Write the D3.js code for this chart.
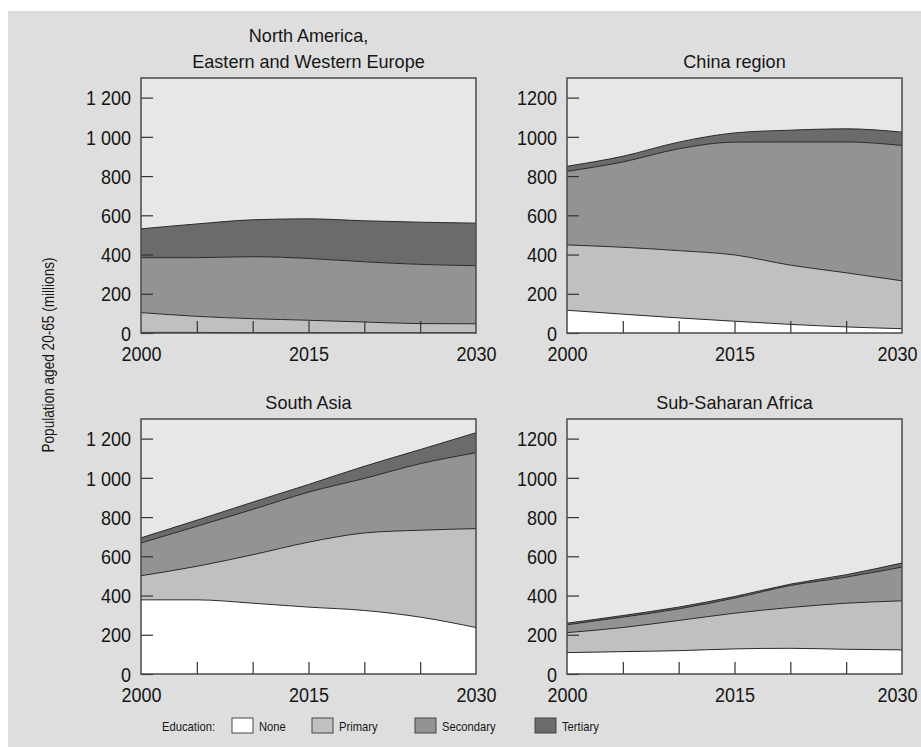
<!DOCTYPE html>
<html>
<head>
<meta charset="utf-8">
<script src="https://cdnjs.cloudflare.com/ajax/libs/d3/7.8.5/d3.min.js"></script>
<style>
body { margin: 0; background: #fff; }
text { font-family: "Liberation Sans", Arial, Helvetica, sans-serif; fill: #161616; }
</style>
</head>
<body>
<svg id="chart" width="921" height="747"></svg>
<script>
// years and education levels
var years = [2000, 2005, 2010, 2015, 2020, 2025, 2030];
var levels = ["None", "Primary", "Secondary", "Tertiary"];

// population aged 20-65 (millions), per level
var naNone = [3, 3, 2, 2, 1, 1, 1];
var naPrimary = [101, 82, 71, 63, 55, 47, 46];
var naSecondary = [280, 299, 316, 315, 307, 302, 296];
var naTertiary = [147, 172, 188, 202, 209, 215, 217];

var chinaNone = [116, 96, 77, 60, 44, 31, 22];
var chinaPrimary = [333, 341, 343, 338, 302, 276, 244];
var chinaSecondary = [375, 435, 519, 575, 628, 667, 690];
var chinaTertiary = [26, 29, 34, 47, 60, 67, 68];

var saNone = [378, 378, 361, 341, 324, 290, 237];
var saPrimary = [123, 171, 247, 331, 395, 443, 504];
var saSecondary = [167, 204, 231, 255, 278, 339, 387];
var saTertiary = [26, 31, 37, 39, 62, 72, 102];

var ssaNone = [109, 114, 119, 128, 131, 126, 123];
var ssaPrimary = [102, 123, 154, 182, 208, 235, 250];
var ssaSecondary = [40, 53, 59, 77, 112, 133, 172];
var ssaTertiary = [8, 8, 9, 8, 7, 12, 21];

// tick labels
var yTicks = [0, 200, 400, 600, 800, 1000, 1200];
var yLabelsLeft = ["0", "200", "400", "600", "800", "1 000", "1 200"];
var yLabelsRight = ["0", "200", "400", "600", "800", "1000", "1200"];
var xLabelYears = [2000, 2015, 2030];
var xTickYears = [2005, 2010, 2015, 2020, 2025];

var colors = {"None": "#ffffff", "Primary": "#c0c0c0", "Secondary": "#939393", "Tertiary": "#6b6b6b"};

var svg = d3.select("#chart");

// squeeze text horizontally, the original type is a narrow face
function squeeze(sel, f) {
	sel.each(function() {
		var w = this.getComputedTextLength();
		d3.select(this).attr("textLength", w * f).attr("lengthAdjust", "spacingAndGlyphs");
	});
}

svg.append("rect")
	.attr("x", 8).attr("y", 11)
	.attr("width", 913).attr("height", 736)
	.attr("fill", "#dedede");

var pw = 335, ph = 255;
var panels = [
	{title: ["North America,", "Eastern and Western Europe"], data: [naNone, naPrimary, naSecondary, naTertiary], left: 141, top: 78, labels: yLabelsLeft},
	{title: ["China region"], data: [chinaNone, chinaPrimary, chinaSecondary, chinaTertiary], left: 567, top: 78, labels: yLabelsRight},
	{title: ["South Asia"], data: [saNone, saPrimary, saSecondary, saTertiary], left: 141, top: 419, labels: yLabelsLeft},
	{title: ["Sub-Saharan Africa"], data: [ssaNone, ssaPrimary, ssaSecondary, ssaTertiary], left: 567, top: 419, labels: yLabelsRight}
];

var x = d3.scaleLinear().domain([2000, 2030]).range([0, pw]);
var y = d3.scaleLinear().domain([0, 1300]).range([ph, 0]);

var stack = d3.stack().keys(levels);

var area = d3.area()
	.x(d => x(d.data.year))
	.y0(d => y(d[0]))
	.y1(d => y(d[1]))
	.curve(d3.curveMonotoneX);

var line = d3.line()
	.x(d => x(d.data.year))
	.y(d => y(d[1]))
	.curve(d3.curveMonotoneX);

panels.forEach(function(p, pi) {
	var rows = years.map(function(yr, i) {
		var r = {year: yr};
		levels.forEach(function(k, j) { r[k] = p.data[j][i]; });
		return r;
	});
	var series = stack(rows);

	var g = svg.append("g").attr("transform", `translate(${p.left},${p.top})`);

	g.append("clipPath").attr("id", "clip" + pi)
		.append("rect").attr("width", pw).attr("height", ph);

	g.append("rect")
		.attr("width", pw).attr("height", ph)
		.attr("fill", "#e7e7e7");

	var plot = g.append("g").attr("clip-path", `url(#clip${pi})`);

	plot.selectAll(".layer")
		.data(series)
		.enter().append("path")
		.attr("class", "layer")
		.attr("fill", d => colors[d.key])
		.attr("d", area);

	plot.selectAll(".edge")
		.data(series)
		.enter().append("path")
		.attr("class", "edge")
		.attr("fill", "none")
		.attr("stroke", "#2a2a2a")
		.attr("stroke-width", 1)
		.attr("d", line);

	// y axis, ticks pointing inward
	var yAxis = g.append("g")
		.call(d3.axisLeft(y).tickValues(yTicks).tickSizeInner(-12).tickSizeOuter(0).tickPadding(10)
			.tickFormat((d, i) => p.labels[i]));
	yAxis.select(".domain").remove();
	yAxis.selectAll("line").attr("stroke", "#333").attr("stroke-width", 1.2);
	yAxis.selectAll("text")
		.attr("font-family", null)
		.style("font-size", "20px")
		.attr("fill", "#161616")
		.attr("dy", "0.36em");
	squeeze(yAxis.selectAll("text"), 0.9);

	// x minor ticks
	var xTicks = g.append("g")
		.attr("transform", `translate(0,${ph})`)
		.call(d3.axisBottom(x).tickValues(xTickYears).tickSizeInner(-12).tickSizeOuter(0).tickFormat(""));
	xTicks.select(".domain").remove();
	xTicks.selectAll("line").attr("stroke", "#333").attr("stroke-width", 1.2);

	// x labels
	var xAxis = g.append("g")
		.attr("transform", `translate(0,${ph})`)
		.call(d3.axisBottom(x).tickValues(xLabelYears).tickSize(0).tickPadding(14).tickFormat(d3.format("d")));
	xAxis.select(".domain").remove();
	xAxis.selectAll("text")
		.attr("font-family", null)
		.style("font-size", "20px")
		.attr("fill", "#161616");
	squeeze(xAxis.selectAll("text"), 0.9);
	// keep the last year label inside the window
	xAxis.selectAll(".tick").each(function(d) {
		var txt = d3.select(this).select("text");
		var w = +txt.attr("textLength");
		var right = p.left + x(d) + w / 2;
		if (right > 917) txt.attr("x", 917 - right);
	});

	g.append("rect")
		.attr("width", pw).attr("height", ph)
		.attr("fill", "none")
		.attr("stroke", "#4a4a4a")
		.attr("stroke-width", 1.5);

	var n = p.title.length;
	var t = g.selectAll(".title")
		.data(p.title)
		.enter().append("text")
		.attr("class", "title")
		.attr("x", pw / 2)
		.attr("y", (d, i) => -10.5 - (n - 1 - i) * 26)
		.attr("text-anchor", "middle")
		.style("font-size", "19px")
		.text(d => d);
	squeeze(t, 0.95);
});

// y axis title
var yt = svg.append("text")
	.attr("transform", "translate(54,355) rotate(-90)")
	.attr("text-anchor", "middle")
	.style("font-size", "17px")
	.text("Population aged 20-65 (millions)");
squeeze(yt, 0.8);

// legend
var legend = svg.append("g");
var lt = legend.append("text")
	.attr("x", 215).attr("y", 731)
	.attr("text-anchor", "end")
	.style("font-size", "13.5px")
	.text("Education:");
squeeze(lt, 0.83);

var legendX = [232, 312, 415, 535];
var items = legend.selectAll(".item")
	.data(levels)
	.enter().append("g")
	.attr("class", "item")
	.attr("transform", (d, i) => `translate(${legendX[i]},718)`);

items.append("rect")
	.attr("width", 21).attr("height", 15)
	.attr("fill", d => colors[d])
	.attr("stroke", "#444")
	.attr("stroke-width", 1);

var it = items.append("text")
	.attr("x", 27).attr("y", 13)
	.style("font-size", "13.5px")
	.text(d => d);
squeeze(it, 0.83);
</script>
</body>
</html>
